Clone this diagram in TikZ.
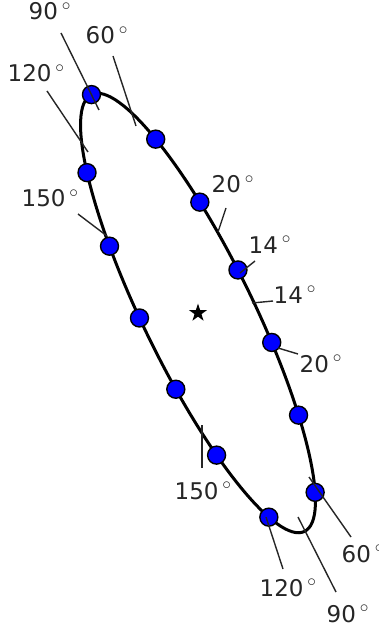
\documentclass[tikz,border=0pt]{standalone}
\usepackage{fontspec}
\setmainfont{DejaVu Sans}
\usetikzlibrary{shapes.geometric, positioning}
\definecolor{dotBlue}{RGB}{0, 0, 255}

\tikzset{
  curve/.style={line width=3pt, black},
  dot/.style={circle, draw=black, line width=1.4pt, fill=dotBlue, minimum size=18pt, inner sep=0pt},
  tickline/.style={line width=1.4pt, black!85},
  anglbl/.style={anchor=base west, inner sep=0pt, font=\fontsize{23}{27}\selectfont, text=black!85},
  centre/.style={star, star points=5, star point ratio=2.6, fill=black, inner sep=0pt, minimum size=19pt}
}

\begin{document}
\begin{tikzpicture}[x=1pt, y=-1pt]
    \useasboundingbox (0,0) rectangle (379,628);
    % Ellipse and sample points
    \begin{scope}[shift={(198,313)}, y=1pt, rotate=116]
      \draw[curve] (0,0) ellipse [x radius=243, y radius=55];
      \foreach \t [count=\i] in {0,44,66,85,104,124,152,-44,-66,-85,-104,-124,-151}
        \node[dot] (m\i) at ({243*cos(\t)}, {55*sin(\t)}) {};
    \end{scope}
    % Centre
    \node[centre] (ctr) at (198,313) {};
    % Angle ticks
    \foreach \nm/\deg/\lx/\ly/\ax/\ay/\bx/\by in {
        a/90/28.5/20/61/33/99/110,
        b/60/85.5/43.5/113/56/136/126,
        c/120/7.5/82/47/91/88/152,
        d/150/21.5/207/78/214/107/236,
        e/20/211.5/193/226/208/218/232,
        f/14/248.5/253/255/261/240/273,
        g/14/273.5/303/273/301/252/303,
        h/20/299.5/372/298/354/278/348,
        i/150/174.5/499/202/468/202/425,
        j/120/259.5/596/283/569/266/517,
        k/90/326.5/622/336/592/298/517,
        l/60/341.5/562/351/537/309/477}
    {
      \node[anglbl] (l\nm) at (\lx,\ly) {\deg\,$^\circ$};
      \coordinate (s\nm) at (\ax,\ay);
      \coordinate (e\nm) at (\bx,\by);
      \draw[tickline] (s\nm) -- (e\nm);
    }
\end{tikzpicture}
\end{document}
